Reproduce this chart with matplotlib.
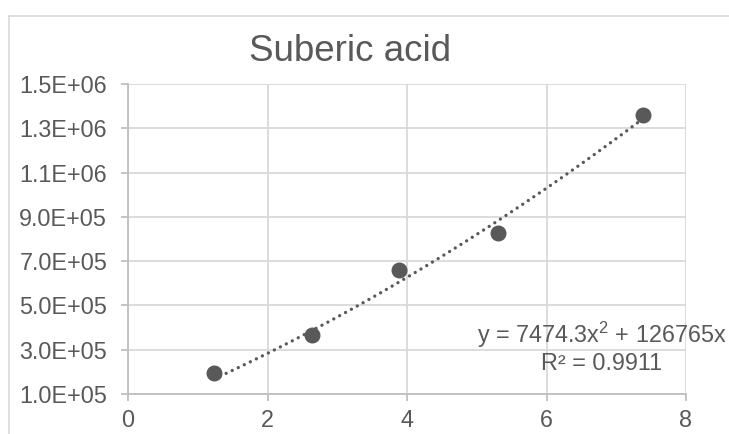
import numpy as np
import matplotlib
matplotlib.use("Agg")
import matplotlib.pyplot as plt
from matplotlib.lines import Line2D

plt.rcParams['font.family'] = ['Liberation Sans', 'DejaVu Sans']
plt.rcParams['mathtext.fontset'] = 'custom'
plt.rcParams['mathtext.rm'] = 'Liberation Sans'
plt.rcParams['mathtext.it'] = 'Liberation Sans'

# Data
x_vals = [1.233, 2.645, 3.885, 5.30, 7.379]
y_vals = [1.95e5, 3.65e5, 6.60e5, 8.26e5, 1.36e6]
trend_a = 7474.3      # x^2 coefficient (shown on chart)
trend_b = 126765.0    # x coefficient (shown on chart)
title = "Suberic acid"
eq_text = "y = 7474.3x$^{\\mathrm{2}}$ + 126765x\nR² = 0.9911"
x_ticks = [0, 2, 4, 6, 8]
y_ticks = [1.0e5, 3.0e5, 5.0e5, 7.0e5, 9.0e5, 1.1e6, 1.3e6, 1.5e6]

TXT = '#595959'
GRID = '#d9d9d9'
AXIS = '#bfbfbf'

fig = plt.figure(figsize=(7.29, 4.34), dpi=100)
ax = fig.add_axes([128/729, 1-394/434, 558/729, 310/434])

# chart border (left and top edges visible)
fig.add_artist(Line2D([9/729, 9/729], [0, 1-16/434], color=GRID, lw=1.2, transform=fig.transFigure))
fig.add_artist(Line2D([9/729, 1], [1-16/434, 1-16/434], color=GRID, lw=1.2, transform=fig.transFigure))

# trendline
xt = np.linspace(min(x_vals), max(x_vals), 200)
yt = trend_a * xt**2 + trend_b * xt
ax.plot(xt, yt, color=TXT, lw=2.4, linestyle=(0, (0.01, 2.0)), dash_capstyle='round', zorder=3)

# points
ax.plot(x_vals, y_vals, 'o', color=TXT, markersize=10.5, zorder=4)

ax.set_xlim(0, 8)
ax.set_ylim(1.0e5, 1.5e6)
ax.set_xticks(x_ticks)
ax.set_yticks(y_ticks)
ax.set_xticklabels([str(v) for v in x_ticks])
ax.set_yticklabels([f"{v:.1E}" for v in y_ticks])

ax.grid(True, color=GRID, lw=1.3)
ax.set_axisbelow(True)
for s in ['top', 'right']:
    ax.spines[s].set_visible(False)
for s in ['left', 'bottom']:
    ax.spines[s].set_color(AXIS)
    ax.spines[s].set_linewidth(1.3)
ax.tick_params(axis='both', colors=AXIS, labelcolor=TXT, labelsize=16.8, length=5, width=1.3)
ax.tick_params(axis='y', pad=10)
ax.tick_params(axis='x', pad=6)

fig.text(350/729, 1-51.5/434, title, ha='center', va='center', fontsize=26.5, color=TXT)

ax.text(0.849, 0.15, eq_text, transform=ax.transAxes, ha='center', va='center',
        multialignment='center', fontsize=16.8, color=TXT, linespacing=1.15, zorder=5)

fig.savefig('out.png', dpi=100)
